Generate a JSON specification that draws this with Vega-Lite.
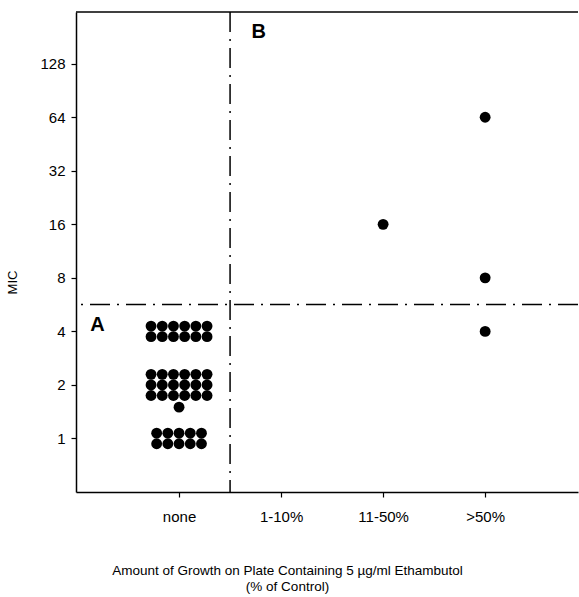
{
  "$schema": "https://vega.github.io/schema/vega-lite/v6.json",
  "autosize": {"type": "none"},
  "padding": {"left": 76, "top": 12, "right": 1, "bottom": 105},
  "width": 502,
  "height": 480,
  "config": {
    "view": {"stroke": null},
    "font": "Liberation Sans",
    "axis": {
      "domainColor": "black",
      "domainWidth": 1.5,
      "tickColor": "black",
      "tickWidth": 1.2,
      "tickSize": 5,
      "labelColor": "black",
      "titleColor": "black",
      "labelFont": "Liberation Sans",
      "titleFont": "Liberation Sans",
      "labelFontSize": 15,
      "titleFontWeight": "normal",
      "grid": false
    }
  },
  "datasets": {
    "isolates": [
      {"growth": "none", "g": 0, "mic": 4, "stackCol": -2.5, "stackRow": -0.5},
      {"growth": "none", "g": 0, "mic": 4, "stackCol": -1.5, "stackRow": -0.5},
      {"growth": "none", "g": 0, "mic": 4, "stackCol": -0.5, "stackRow": -0.5},
      {"growth": "none", "g": 0, "mic": 4, "stackCol": 0.5, "stackRow": -0.5},
      {"growth": "none", "g": 0, "mic": 4, "stackCol": 1.5, "stackRow": -0.5},
      {"growth": "none", "g": 0, "mic": 4, "stackCol": 2.5, "stackRow": -0.5},
      {"growth": "none", "g": 0, "mic": 4, "stackCol": -2.5, "stackRow": 0.5},
      {"growth": "none", "g": 0, "mic": 4, "stackCol": -1.5, "stackRow": 0.5},
      {"growth": "none", "g": 0, "mic": 4, "stackCol": -0.5, "stackRow": 0.5},
      {"growth": "none", "g": 0, "mic": 4, "stackCol": 0.5, "stackRow": 0.5},
      {"growth": "none", "g": 0, "mic": 4, "stackCol": 1.5, "stackRow": 0.5},
      {"growth": "none", "g": 0, "mic": 4, "stackCol": 2.5, "stackRow": 0.5},
      {"growth": "none", "g": 0, "mic": 2, "stackCol": -2.5, "stackRow": -1},
      {"growth": "none", "g": 0, "mic": 2, "stackCol": -1.5, "stackRow": -1},
      {"growth": "none", "g": 0, "mic": 2, "stackCol": -0.5, "stackRow": -1},
      {"growth": "none", "g": 0, "mic": 2, "stackCol": 0.5, "stackRow": -1},
      {"growth": "none", "g": 0, "mic": 2, "stackCol": 1.5, "stackRow": -1},
      {"growth": "none", "g": 0, "mic": 2, "stackCol": 2.5, "stackRow": -1},
      {"growth": "none", "g": 0, "mic": 2, "stackCol": -2.5, "stackRow": 0},
      {"growth": "none", "g": 0, "mic": 2, "stackCol": -1.5, "stackRow": 0},
      {"growth": "none", "g": 0, "mic": 2, "stackCol": -0.5, "stackRow": 0},
      {"growth": "none", "g": 0, "mic": 2, "stackCol": 0.5, "stackRow": 0},
      {"growth": "none", "g": 0, "mic": 2, "stackCol": 1.5, "stackRow": 0},
      {"growth": "none", "g": 0, "mic": 2, "stackCol": 2.5, "stackRow": 0},
      {"growth": "none", "g": 0, "mic": 2, "stackCol": -2.5, "stackRow": 1},
      {"growth": "none", "g": 0, "mic": 2, "stackCol": -1.5, "stackRow": 1},
      {"growth": "none", "g": 0, "mic": 2, "stackCol": -0.5, "stackRow": 1},
      {"growth": "none", "g": 0, "mic": 2, "stackCol": 0.5, "stackRow": 1},
      {"growth": "none", "g": 0, "mic": 2, "stackCol": 1.5, "stackRow": 1},
      {"growth": "none", "g": 0, "mic": 2, "stackCol": 2.5, "stackRow": 1},
      {"growth": "none", "g": 0, "mic": 1.5, "stackCol": 0, "stackRow": 0},
      {"growth": "none", "g": 0, "mic": 1, "stackCol": -2, "stackRow": -0.5},
      {"growth": "none", "g": 0, "mic": 1, "stackCol": -1, "stackRow": -0.5},
      {"growth": "none", "g": 0, "mic": 1, "stackCol": 0, "stackRow": -0.5},
      {"growth": "none", "g": 0, "mic": 1, "stackCol": 1, "stackRow": -0.5},
      {"growth": "none", "g": 0, "mic": 1, "stackCol": 2, "stackRow": -0.5},
      {"growth": "none", "g": 0, "mic": 1, "stackCol": -2, "stackRow": 0.5},
      {"growth": "none", "g": 0, "mic": 1, "stackCol": -1, "stackRow": 0.5},
      {"growth": "none", "g": 0, "mic": 1, "stackCol": 0, "stackRow": 0.5},
      {"growth": "none", "g": 0, "mic": 1, "stackCol": 1, "stackRow": 0.5},
      {"growth": "none", "g": 0, "mic": 1, "stackCol": 2, "stackRow": 0.5},
      {"growth": "11-50%", "g": 2, "mic": 16, "stackCol": 0, "stackRow": 0},
      {"growth": ">50%", "g": 3, "mic": 64, "stackCol": 0, "stackRow": 0},
      {"growth": ">50%", "g": 3, "mic": 8, "stackCol": 0, "stackRow": 0},
      {"growth": ">50%", "g": 3, "mic": 4, "stackCol": 0, "stackRow": 0}
    ],
    "frame": [{"mic": 250}],
    "micCutoff": [{"mic": 5.66}],
    "growthCutoff": [{"g": 0.5}],
    "regions": [
      {"label": "A", "g": -0.8, "mic": 4.33},
      {"label": "B", "g": 0.78, "mic": 194}
    ]
  },
  "layer": [
    {
      "data": {"name": "frame"},
      "mark": {"type": "rule", "color": "black", "strokeWidth": 1.5},
      "encoding": {
        "y": {
          "field": "mic",
          "type": "quantitative",
          "scale": {"type": "log", "base": 2, "domain": [0.5, 250], "nice": false},
          "axis": {
            "title": "MIC",
            "values": [1, 2, 4, 8, 16, 32, 64, 128],
            "format": "d",
            "labelPadding": 6,
            "titleFontSize": 13,
            "titleAngle": -90,
            "titleX": -64,
            "titleY": 270,
            "titleAlign": "center",
            "titleBaseline": "middle"
          }
        }
      }
    },
    {
      "data": {"name": "growthCutoff"},
      "mark": {"type": "rule", "color": "black", "strokeWidth": 1.5, "strokeDash": [20, 7, 2, 7]},
      "encoding": {
        "x": {
          "field": "g",
          "type": "quantitative",
          "scale": {"domain": [-1.01, 3.91], "nice": false, "zero": false},
          "axis": {
            "values": [0, 1, 2, 3],
            "labelExpr": "['none', '1-10%', '11-50%', '>50%'][datum.value]",
            "labelPadding": 12,
            "title": ["Amount of Growth on Plate Containing 5 µg/ml Ethambutol", "(% of Control)"],
            "titleFontSize": 13.5,
            "titleLineHeight": 16,
            "titleX": 211,
            "titleY": 71,
            "titleAlign": "center",
            "titleBaseline": "top"
          }
        }
      }
    },
    {
      "data": {"name": "micCutoff"},
      "mark": {"type": "rule", "color": "black", "strokeWidth": 1.5, "strokeDash": [20, 7, 2, 7]},
      "encoding": {
        "y": {"field": "mic", "type": "quantitative"}
      }
    },
    {
      "data": {"name": "isolates"},
      "mark": {
        "type": "circle",
        "color": "black",
        "opacity": 1,
        "size": 118,
        "xOffset": {"expr": "datum.stackCol * 11.2"},
        "yOffset": {"expr": "datum.stackRow * 10.6"}
      },
      "encoding": {
        "x": {"field": "g", "type": "quantitative"},
        "y": {"field": "mic", "type": "quantitative"}
      }
    },
    {
      "data": {"name": "regions"},
      "mark": {"type": "text", "fontSize": 20, "fontWeight": "bold", "color": "black", "align": "center", "baseline": "middle", "font": "Liberation Sans"},
      "encoding": {
        "x": {"field": "g", "type": "quantitative"},
        "y": {"field": "mic", "type": "quantitative"},
        "text": {"field": "label"}
      }
    }
  ]
}
